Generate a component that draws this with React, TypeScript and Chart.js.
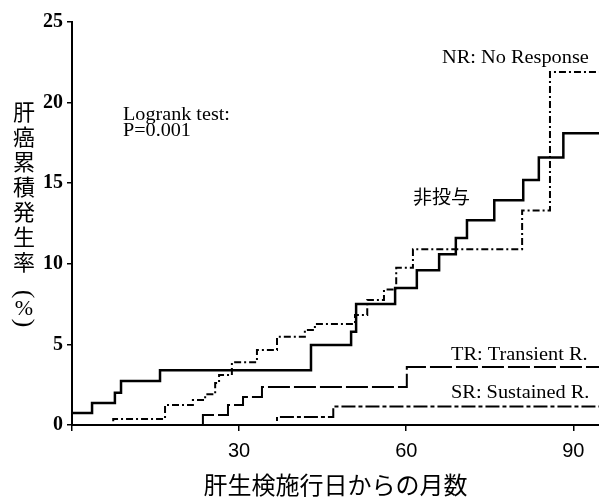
import React, { useEffect, useRef } from 'react';
import { Chart, registerables } from 'chart.js';

Chart.register(...registerables);

// ---- data (months since liver biopsy, cumulative HCC incidence %) ----
const xMax = 94.6;
const xTickValues = [0, 30, 60, 90];
const yTickValues = [0, 5, 10, 15, 20, 25];

const untreatedMonths = [0, 3.6, 7.7, 8.8, 15.8, 42.9, 50.1, 51.0, 58.0, 61.9, 65.9, 68.9, 70.9, 75.8, 81.0, 83.8, 88.2, 94.6];
const untreatedRate = [0.75, 1.37, 2.0, 2.73, 3.4, 4.97, 5.78, 7.5, 8.5, 9.6, 10.6, 11.6, 12.7, 13.95, 15.2, 16.6, 18.1, 18.1];

const nrMonths = [0, 7.4, 16.7, 21.7, 23.9, 25.7, 26.4, 28.7, 33.2, 36.8, 41.8, 43.6, 50.8, 53.0, 56.0, 58.2, 61.2, 80.8, 85.8, 94.6];
const nrRate = [0, 0.37, 1.24, 1.55, 1.9, 2.6, 3.1, 3.9, 4.66, 5.47, 5.9, 6.27, 6.83, 7.76, 8.4, 9.75, 10.9, 13.3, 21.9, 21.9];

const trMonths = [0, 23.5, 28.0, 30.7, 34.1, 60.1, 94.6];
const trRate = [0, 0.62, 1.24, 1.74, 2.36, 3.6, 3.6];

const srMonths = [0, 36.8, 46.9, 94.6];
const srRate = [0, 0.5, 1.15, 1.15];

const seriesLabels = ['非投与', 'NR: No Response', 'TR: Transient R.', 'SR: Sustained R.'];
const yTitleChars = ['肝', '癌', '累', '積', '発', '生', '率'];
const xTitle = '肝生検施行日からの月数';
const testLines = ['Logrank test:', 'P=0.001'];

const pts = (xs: number[], ys: number[]) => xs.map((x, i) => ({ x, y: ys[i] }));

function drawText(ctx: CanvasRenderingContext2D, text: string, x: number, y: number, font: string, sx = 1, align: CanvasTextAlign = 'left', baseline: CanvasTextBaseline = 'alphabetic') {
  ctx.save();
  ctx.font = font;
  ctx.textAlign = align;
  ctx.textBaseline = baseline;
  ctx.translate(x, y);
  ctx.scale(sx, 1);
  ctx.fillText(text, 0, 0);
  ctx.restore();
}

const annotationPlugin = {
  id: 'annotations',
  afterDraw(chart: any) {
    const ctx: CanvasRenderingContext2D = chart.ctx;
    ctx.save();
    ctx.fillStyle = '#000';
    const serif = '18px "Liberation Serif"';
    drawText(ctx, testLines[0], 123, 120, serif, 1.12);
    drawText(ctx, testLines[1], 123, 136, serif, 1.12);
    drawText(ctx, seriesLabels[1], 442, 63, serif, 1.13);
    drawText(ctx, seriesLabels[2], 451, 360, serif, 1.13);
    drawText(ctx, seriesLabels[3], 451, 398, serif, 1.13);
    drawText(ctx, seriesLabels[0], 413, 197, '19px "Noto Sans CJK JP"', 1, 'left', 'middle');

    // vertical y-axis title
    const cx = 24;
    yTitleChars.forEach((c, i) => {
      drawText(ctx, c, cx, 112 + i * 25, '22px "Noto Sans CJK JP"', 1, 'center', 'middle');
    });
    // rotated parentheses around %
    ctx.save();
    ctx.font = '26px "Liberation Serif"';
    ctx.textAlign = 'center';
    ctx.textBaseline = 'middle';
    ctx.translate(cx, 294);
    ctx.rotate(Math.PI / 2);
    ctx.fillText('(', 0, 0);
    ctx.restore();
    drawText(ctx, '%', cx, 309, '22px "Liberation Serif"', 1, 'center', 'middle');
    ctx.save();
    ctx.font = '26px "Liberation Serif"';
    ctx.textAlign = 'center';
    ctx.textBaseline = 'middle';
    ctx.translate(cx, 323);
    ctx.rotate(Math.PI / 2);
    ctx.fillText(')', 0, 0);
    ctx.restore();
    ctx.restore();
  },
};

export default function App() {
  const canvasRef = useRef<HTMLCanvasElement | null>(null);

  useEffect(() => {
    if (!canvasRef.current) return;
    const common = { stepped: 'before' as const, pointRadius: 0, borderColor: '#000', fill: false, borderCapStyle: 'butt' as const };
    const chart = new Chart(canvasRef.current, {
      type: 'line',
      data: {
        datasets: [
          { ...common, label: seriesLabels[3], data: pts(srMonths, srRate), borderWidth: 2, borderDash: [14, 3, 4, 3] },
          { ...common, label: seriesLabels[2], data: pts(trMonths, trRate), borderWidth: 2, borderDash: [22, 4] },
          { ...common, label: seriesLabels[1], data: pts(nrMonths, nrRate), borderWidth: 2, borderDash: [7, 3, 2, 3] },
          { ...common, label: seriesLabels[0], data: pts(untreatedMonths, untreatedRate), borderWidth: 2.5 },
        ],
      },
      options: {
        animation: false,
        responsive: true,
        maintainAspectRatio: false,
        devicePixelRatio: 1,
        layout: { padding: { top: 22, right: 0, left: 0, bottom: 0 } },
        plugins: { legend: { display: false }, tooltip: { enabled: false } },
        scales: {
          x: {
            type: 'linear',
            min: 0,
            max: xMax,
            afterFit: (s: any) => { s.height = 72; },
            afterBuildTicks: (s: any) => { s.ticks = xTickValues.map((v) => ({ value: v })); },
            ticks: {
              includeBounds: false,
              color: '#000',
              font: { family: '"Liberation Sans"', size: 20 },
              padding: 8,
              callback: (v: any) => (v === 0 ? '' : String(v)),
            },
            grid: { display: true, drawOnChartArea: false, drawTicks: true, tickLength: 6, color: '#000', lineWidth: 1.5 },
            border: { display: true, color: '#000', width: 2 },
            title: {
              display: true,
              text: xTitle,
              color: '#000',
              font: { family: '"Noto Sans CJK JP"', size: 24, lineHeight: 1 },
              padding: { top: 0, bottom: 0 },
            },
          },
          y: {
            type: 'linear',
            min: 0,
            max: 25,
            afterFit: (s: any) => { s.width = 72; },
            afterBuildTicks: (s: any) => { s.ticks = yTickValues.map((v) => ({ value: v })); },
            ticks: {
              color: '#000',
              font: { family: '"Liberation Serif"', size: 20, weight: 'bold' },
              padding: 4,
            },
            grid: { display: true, drawOnChartArea: false, drawTicks: true, tickLength: 5, color: '#000', lineWidth: 1.5 },
            border: { display: true, color: '#000', width: 2 },
          },
        },
      },
      plugins: [annotationPlugin],
    } as any);
    return () => chart.destroy();
  }, []);

  return (
    <div style={{ position: 'fixed', left: 0, top: 0, width: 599, height: 497, background: '#fff' }}>
      <canvas ref={canvasRef} />
    </div>
  );
}
